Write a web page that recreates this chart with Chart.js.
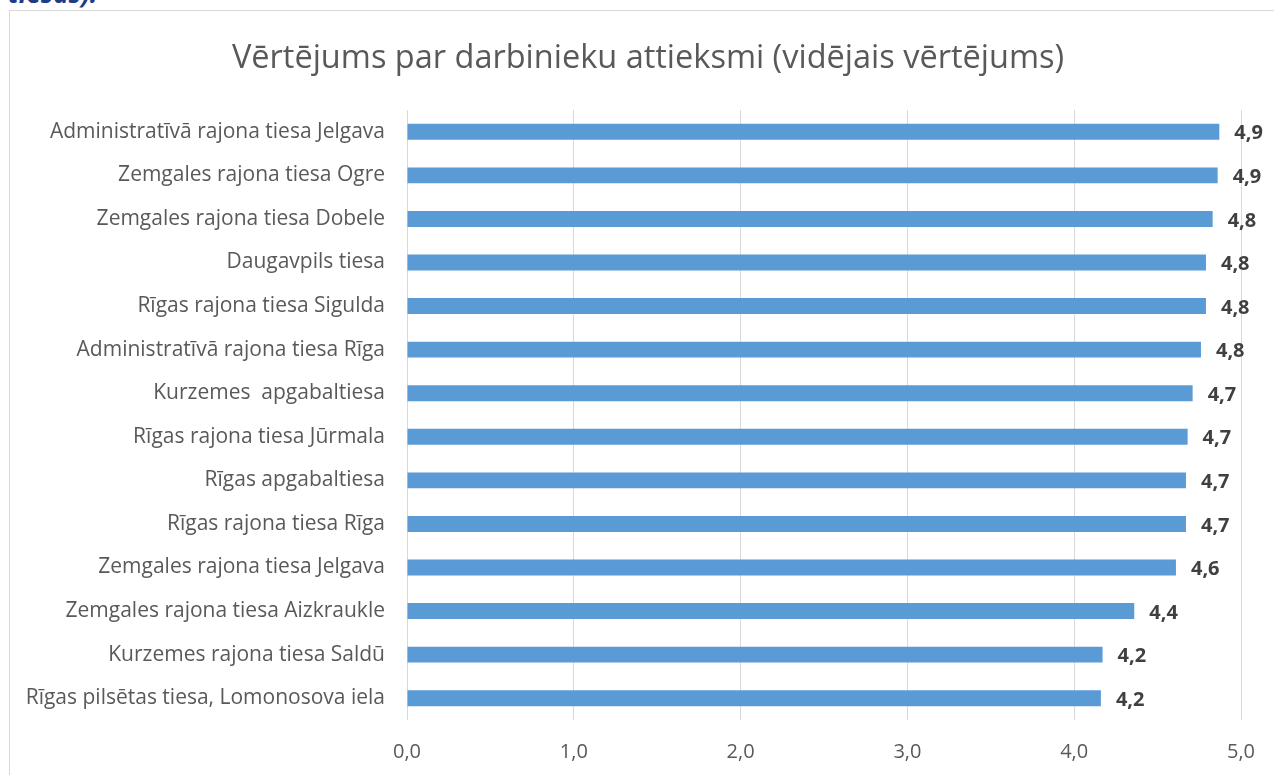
<!DOCTYPE html>
<html>
<head>
<meta charset="utf-8">
<script src="https://cdn.jsdelivr.net/npm/chart.js@4"></script>
<style>
    body { margin: 0; background: #fff; overflow: hidden; }
    #prev {
        position: absolute; left: 8px; top: -25px;
        font-family: "Open Sans", sans-serif; font-weight: bold; font-style: italic;
        font-size: 26px; color: #1f3c88;
    }
    #box {
        position: absolute; left: 9px; top: 10px;
        width: 1276px; height: 790px;
        border: 1px solid #d9d9d9;
    }
</style>
</head>
<body>
<div id="prev">tiesās).</div>
<div id="box"><canvas id="myChart"></canvas></div>
<script>
const courts = [
    'Administratīvā rajona tiesa Jelgava',
    'Zemgales rajona tiesa Ogre',
    'Zemgales rajona tiesa Dobele',
    'Daugavpils tiesa',
    'Rīgas rajona tiesa Sigulda',
    'Administratīvā rajona tiesa Rīga',
    'Kurzemes  apgabaltiesa',
    'Rīgas rajona tiesa Jūrmala',
    'Rīgas apgabaltiesa',
    'Rīgas rajona tiesa Rīga',
    'Zemgales rajona tiesa Jelgava',
    'Zemgales rajona tiesa Aizkraukle',
    'Kurzemes rajona tiesa Saldū',
    'Rīgas pilsētas tiesa, Lomonosova iela'
];
const scores = [4.87, 4.86, 4.83, 4.79, 4.79, 4.76, 4.71, 4.68, 4.67, 4.67, 4.61, 4.36, 4.17, 4.16];
const xTicks = ['0,0', '1,0', '2,0', '3,0', '4,0', '5,0'];

const ctx = document.getElementById('myChart');

function fmt(v) {
    return v.toFixed(1).replace('.', ',');
}

// value labels to the right of each bar
const barLabels = {
    id: 'barLabels',
    afterDatasetsDraw(chart) {
        const c = chart.ctx;
        const meta = chart.getDatasetMeta(0);
        c.save();
        c.font = 'bold 20px "Open Sans", sans-serif';
        c.fillStyle = '#404040';
        c.textAlign = 'left';
        c.textBaseline = 'middle';
        meta.data.forEach((bar, i) => {
            c.fillText(fmt(scores[i]), bar.x + 15, bar.y + 2);
        });
        c.restore();
    }
};

new Chart(ctx, {
    type: 'bar',
    data: {
        labels: courts,
        datasets: [{
            data: scores,
            backgroundColor: '#5b9bd5',
            borderWidth: 0,
            barPercentage: 0.73,
            categoryPercentage: 0.5
        }]
    },
    options: {
        indexAxis: 'y',
        responsive: true,
        maintainAspectRatio: false,
        animation: false,
        layout: {
            padding: { bottom: 17 }
        },
        plugins: {
            legend: { display: false },
            tooltip: { enabled: false },
            title: {
                display: true,
                text: 'Vērtējums par darbinieku attieksmi (vidējais vērtējums)',
                color: '#595959',
                font: { family: '"Open Sans", sans-serif', size: 32.5, weight: 'normal' },
                padding: { top: 28, bottom: 32 }
            }
        },
        scales: {
            x: {
                min: 0,
                max: 5,
                ticks: {
                    stepSize: 1,
                    color: '#595959',
                    padding: 20,
                    font: { family: '"Open Sans", sans-serif', size: 20 },
                    callback: (v, i) => xTicks[i]
                },
                grid: { color: '#d9d9d9', drawTicks: false },
                border: { display: false }
            },
            y: {
                afterFit: scale => { scale.width = 397; },
                ticks: {
                    color: '#595959',
                    padding: 22,
                    font: { family: '"Open Sans", sans-serif', size: 21 }
                },
                grid: { display: false, drawTicks: false },
                border: { display: false }
            },
            // empty right-hand spacer so the title stays centred on the whole box
            spacer: {
                type: 'category',
                position: 'right',
                afterFit: scale => { scale.width = 45; },
                ticks: { display: false },
                grid: { display: false, drawTicks: false },
                border: { display: false }
            }
        }
    },
    plugins: [barLabels]
});
</script>
</body>
</html>
